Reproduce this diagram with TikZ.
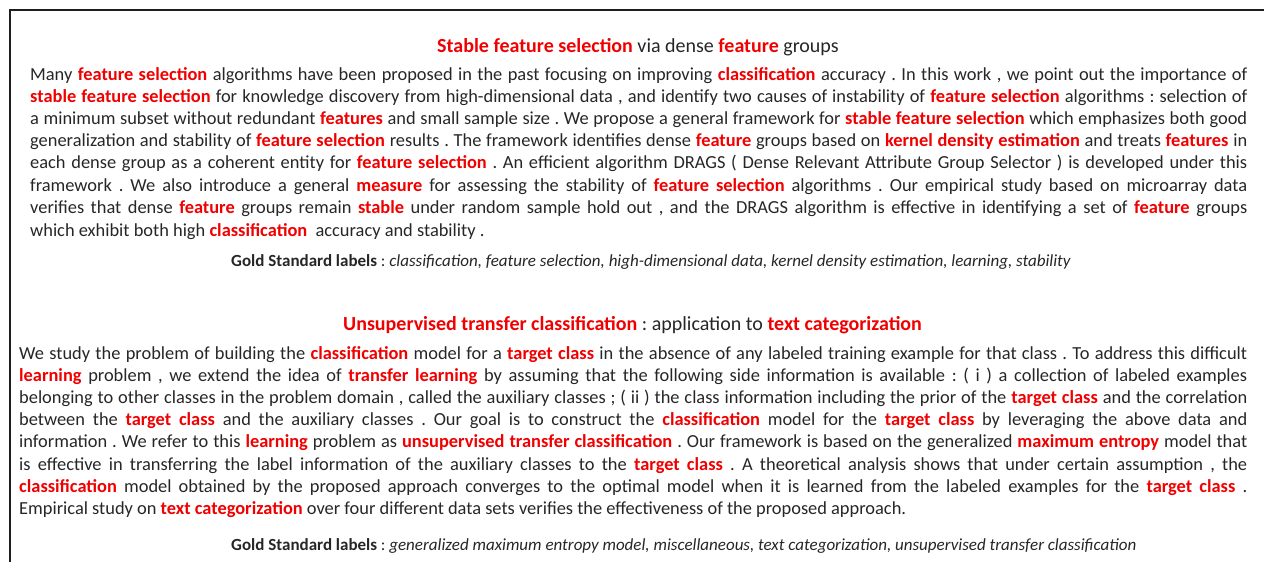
\documentclass[tikz,border=0pt]{standalone}
\usepackage{fontspec}
\setmainfont{Carlito}
\frenchspacing
\definecolor{txt}{RGB}{38,38,38}
\definecolor{kwred}{RGB}{240,0,0}
\definecolor{framec}{RGB}{30,30,30}
\newcommand{\kw}[1]{\textbf{\color{kwred}#1}}
\newcommand{\jline}[1]{\makebox[1217pt][s]{#1}}
\newcommand{\jlineb}[1]{\makebox[1228pt][s]{#1}}
\tikzset{
  bodytext/.style={anchor=base west, inner sep=0pt, text=txt, font=\fontsize{18.4}{22}\selectfont},
  titletext/.style={anchor=base west, inner sep=0pt, text=txt, font=\fontsize{20}{24}\selectfont},
  goldtext/.style={anchor=base west, inner sep=0pt, text=txt, font=\fontsize{17}{20}\selectfont},
  framestyle/.style={draw=framec, line width=2pt}
}
\begin{document}
\begin{tikzpicture}[x=1pt,y=-1pt]
\useasboundingbox (0,0) rectangle (1264,562);
\coordinate (fb) at (10,563);
\coordinate (ft) at (10,10);
\coordinate (fr) at (1265,10);
\draw[framestyle] (fb) -- (ft) -- (fr);

% Paper 1
\node[titletext] (t1) at (437,52) {\kw{Stable feature selection} via dense \kw{feature} groups};
\node[bodytext] (a1) at (30,80) {\jline{Many \kw{feature selection} algorithms have been proposed in the past focusing on improving \kw{classification} accuracy . In this work , we point out the importance of}};
\node[bodytext] (a2) at (30,102) {\jline{\kw{stable feature selection} for knowledge discovery from high-dimensional data , and identify two causes of instability of \kw{feature selection} algorithms : selection of}};
\node[bodytext] (a3) at (30,124) {\jline{a minimum subset without redundant \kw{features} and small sample size . We propose a general framework for \kw{stable feature selection} which emphasizes both good}};
\node[bodytext] (a4) at (30,146) {\jline{generalization and stability of \kw{feature selection} results . The framework identifies dense \kw{feature} groups based on \kw{kernel density estimation} and treats \kw{features} in}};
\node[bodytext] (a5) at (30,168) {\jline{each dense group as a coherent entity for \kw{feature selection} . An efficient algorithm DRAGS ( Dense Relevant Attribute Group Selector ) is developed under this}};
\node[bodytext] (a6) at (30,191) {\jline{framework . We also introduce a general \kw{measure} for assessing the stability of \kw{feature selection} algorithms . Our empirical study based on microarray data}};
\node[bodytext] (a7) at (30,213) {\jline{verifies that dense \kw{feature} groups remain \kw{stable} under random sample hold out , and the DRAGS algorithm is effective in identifying a set of \kw{feature} groups}};
\node[bodytext] (a8) at (30,236) {which exhibit both high \kw{classification}\ \ accuracy and stability .};
\node[goldtext] (g1) at (231,266) {\textbf{Gold Standard labels} : \textit{classification, feature selection, high-dimensional data, kernel density estimation, learning, stability}};

% Paper 2
\node[titletext] (t2) at (343,330) {\kw{Unsupervised transfer classification} : application to \kw{text categorization}};
\node[bodytext] (b1) at (19,359) {\jlineb{We study the problem of building the \kw{classification} model for a \kw{target class} in the absence of any labeled training example for that class . To address this difficult}};
\node[bodytext] (b2) at (19,381) {\jlineb{\kw{learning} problem , we extend the idea of \kw{transfer learning} by assuming that the following side information is available : ( i ) a collection of labeled examples}};
\node[bodytext] (b3) at (19,403) {\jlineb{belonging to other classes in the problem domain , called the auxiliary classes ; ( ii ) the class information including the prior of the \kw{target class} and the correlation}};
\node[bodytext] (b4) at (19,425) {\jlineb{between the \kw{target class} and the auxiliary classes . Our goal is to construct the \kw{classification} model for the \kw{target class} by leveraging the above data and}};
\node[bodytext] (b5) at (19,447) {\jlineb{information . We refer to this \kw{learning} problem as \kw{unsupervised transfer classification} . Our framework is based on the generalized \kw{maximum entropy} model that}};
\node[bodytext] (b6) at (19,470) {\jlineb{is effective in transferring the label information of the auxiliary classes to the \kw{target class} . A theoretical analysis shows that under certain assumption , the}};
\node[bodytext] (b7) at (19,492) {\jlineb{\kw{classification} model obtained by the proposed approach converges to the optimal model when it is learned from the labeled examples for the \kw{target class} .}};
\node[bodytext] (b8) at (19,514) {Empirical study on \kw{text categorization} over four different data sets verifies the effectiveness of the proposed approach.};
\node[goldtext] (g2) at (231,550) {\textbf{Gold Standard labels} : \textit{generalized maximum entropy model, miscellaneous, text categorization, unsupervised transfer classification}};
\end{tikzpicture}
\end{document}
